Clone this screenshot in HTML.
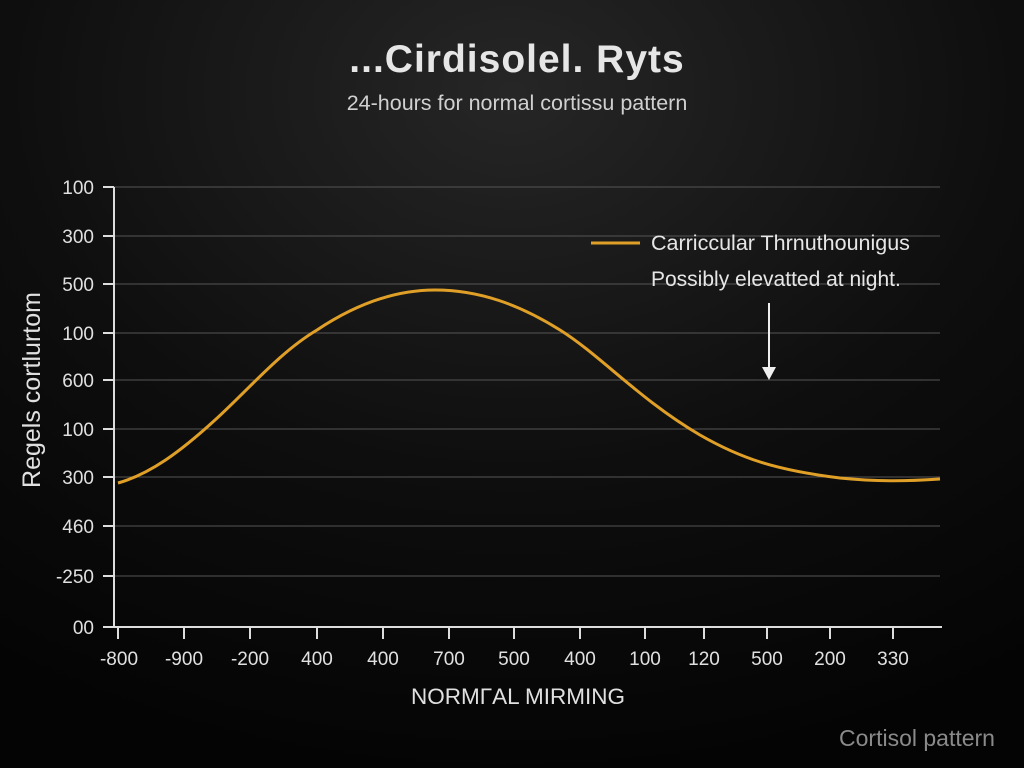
<!DOCTYPE html>
<html><head><style>
html,body{margin:0;padding:0;width:1024px;height:768px;overflow:hidden;background:#0a0a0a}
</style></head><body>
<svg width="1024" height="768" xmlns="http://www.w3.org/2000/svg" font-family="Liberation Sans, sans-serif">
<defs><radialGradient id="bg" cx="0.5" cy="0.12" r="0.9">
<stop offset="0" stop-color="#262626"/><stop offset="0.55" stop-color="#0e0e0e"/><stop offset="1" stop-color="#040404"/></radialGradient></defs>
<rect width="1024" height="768" fill="url(#bg)"/>
<text x="517" y="72" fill="#e6e6e6" font-size="39" font-weight="bold" text-anchor="middle" letter-spacing="1">...Cirdisolel. Ryts</text>
<text x="517" y="110" fill="#d0d0d0" font-size="21.5" text-anchor="middle">24-hours for normal cortissu pattern</text>
<g stroke="#555" stroke-width="1">
<line x1="114" y1="187" x2="940" y2="187"/><line x1="114" y1="236" x2="940" y2="236"/>
<line x1="114" y1="284" x2="940" y2="284"/><line x1="114" y1="333" x2="940" y2="333"/>
<line x1="114" y1="380" x2="940" y2="380"/><line x1="114" y1="429" x2="940" y2="429"/>
<line x1="114" y1="477" x2="940" y2="477"/><line x1="114" y1="526" x2="940" y2="526"/>
<line x1="114" y1="576" x2="940" y2="576"/>
</g>
<g stroke="#ddd" stroke-width="2">
<line x1="114" y1="187" x2="114" y2="628"/><line x1="114" y1="627" x2="942" y2="627"/>
<line x1="103" y1="187" x2="114" y2="187"/><line x1="103" y1="236" x2="114" y2="236"/><line x1="103" y1="284" x2="114" y2="284"/><line x1="103" y1="333" x2="114" y2="333"/><line x1="103" y1="380" x2="114" y2="380"/><line x1="103" y1="429" x2="114" y2="429"/><line x1="103" y1="477" x2="114" y2="477"/><line x1="103" y1="526" x2="114" y2="526"/><line x1="103" y1="576" x2="114" y2="576"/><line x1="103" y1="627" x2="114" y2="627"/>
<line x1="118" y1="627" x2="118" y2="639"/><line x1="184" y1="627" x2="184" y2="639"/><line x1="250" y1="627" x2="250" y2="639"/><line x1="317" y1="627" x2="317" y2="639"/><line x1="383" y1="627" x2="383" y2="639"/><line x1="449" y1="627" x2="449" y2="639"/><line x1="514" y1="627" x2="514" y2="639"/><line x1="580" y1="627" x2="580" y2="639"/><line x1="645" y1="627" x2="645" y2="639"/><line x1="704" y1="627" x2="704" y2="639"/><line x1="767" y1="627" x2="767" y2="639"/><line x1="830" y1="627" x2="830" y2="639"/><line x1="893" y1="627" x2="893" y2="639"/>
</g>
<g fill="#e0e0e0" font-size="19" text-anchor="end">
<text x="94" y="194">100</text><text x="94" y="243">300</text><text x="94" y="291">500</text><text x="94" y="340">100</text><text x="94" y="387">600</text><text x="94" y="436">100</text><text x="94" y="484">300</text><text x="94" y="533">460</text><text x="94" y="583">-250</text><text x="94" y="634">00</text>
</g>
<g fill="#e0e0e0" font-size="19" text-anchor="middle">
<text x="119" y="665">-800</text><text x="184" y="665">-900</text><text x="250" y="665">-200</text><text x="317" y="665">400</text><text x="383" y="665">400</text><text x="449" y="665">700</text><text x="514" y="665">500</text><text x="580" y="665">400</text><text x="645" y="665">100</text><text x="704" y="665">120</text><text x="767" y="665">500</text><text x="830" y="665">200</text><text x="893" y="665">330</text>
</g>
<text x="518" y="704" fill="#e0e0e0" font-size="22.5" text-anchor="middle">NORMΓAL MIRMING</text>
<text transform="translate(40,390) rotate(-90)" fill="#e0e0e0" font-size="25" text-anchor="middle">Regels cortlurtom</text>
<path d="M118,483 C150,474 180,452 215,420 C250,388 280,352 317,330 C350,308 390,290 435,290 C480,290 520,305 560,330 C600,355 640,400 700,435 C740,458 775,470 840,478 C880,482 910,481 940,479" fill="none" stroke="#e0a028" stroke-width="3"/>
<line x1="591" y1="243" x2="640" y2="243" stroke="#e0a028" stroke-width="3"/>
<text x="651" y="250" fill="#e6e6e6" font-size="21.5">Carriccular Thrnuthounigus</text>
<text x="651" y="286" fill="#e6e6e6" font-size="21">Possibly elevatted at night.</text>
<line x1="769" y1="303" x2="769" y2="370" stroke="#eee" stroke-width="2"/>
<polygon points="762,367 776,367 769,380" fill="#eee"/>
<text x="917" y="746" fill="#8a8a8a" font-size="23" text-anchor="middle">Cortisol pattern</text>
</svg>
</body></html>
